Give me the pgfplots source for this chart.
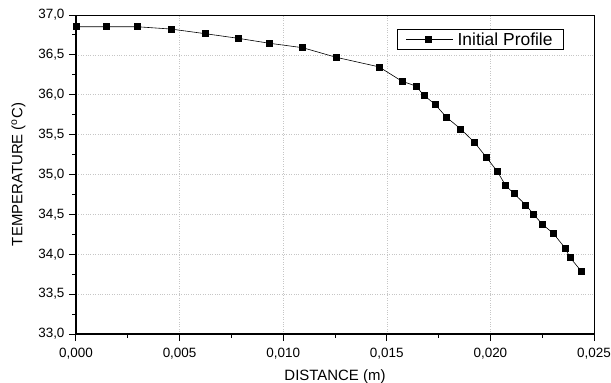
\documentclass[border=0pt]{standalone}
\usepackage{fontspec}
\setmainfont{Liberation Sans}
\usepackage{pgfplots}
\pgfplotsset{compat=1.18}
\begin{document}
\begin{tikzpicture}
\useasboundingbox (-76bp,-49bp) rectangle (535bp,334bp);
\begin{axis}[
  at={(0,0)}, anchor=south west,
  scale only axis, width=518bp, height=319bp,
  xmin=0, xmax=0.025, ymin=33, ymax=37,
  xtick={0,0.005,0.010,0.015,0.020,0.025},
  ytick={33,33.5,34,34.5,35,35.5,36,36.5,37},
  minor x tick num=1, minor y tick num=1,
  scaled x ticks=false,
  tick align=outside,
  xtick pos=bottom, ytick pos=left,
  major tick length=7bp, minor tick length=3.5bp,
  tick style={black, line width=1bp},
  axis line style={line width=0.9bp},
  grid=major,
  major grid style={gray!45, dotted, line width=0.6bp},
  /pgf/number format/assume math mode=true,
  xticklabel style={/pgf/number format/.cd, fixed, fixed zerofill, precision=3, use comma, assume math mode=true, /tikz/.cd, yshift=-4bp},
  yticklabel style={/pgf/number format/.cd, fixed, fixed zerofill, precision=1, use comma, assume math mode=true, /tikz/.cd, xshift=-1bp},
  ticklabel style={font=\fontsize{13.5}{16}\selectfont},
  label style={font=\fontsize{15}{17}\selectfont},
  xlabel={DISTANCE (m)},
  ylabel={TEMPERATURE (\textsuperscript{o}C)},
  xlabel style={yshift=-3.5bp},
  ylabel style={yshift=6bp},
  legend style={at={(rel axis cs:0.942,0.956)}, anchor=north east,
    font=\fontsize{17.5}{19}\selectfont, draw=black, line width=0.8bp,
    inner xsep=9bp, inner ysep=1bp},
  legend cell align=left,
  legend image code/.code={
    \draw[black, line width=0.6bp] (0bp,0bp) -- (47bp,0bp);
    \fill[black] (19bp,-3bp) rectangle (25bp,3bp);
    \path (49bp,0bp);
  },
  after end axis/.code={
    \draw[line width=1.8bp] (rel axis cs:0,1) -- (rel axis cs:0,0) -- (rel axis cs:1,0);
  },
]
\addplot[black, line width=0.6bp, mark=square*, mark size=3bp] coordinates {
(0.00000,36.853)
(0.00145,36.853)
(0.00294,36.853)
(0.00458,36.824)
(0.00623,36.766)
(0.00782,36.708)
(0.00935,36.645)
(0.01094,36.590)
(0.01255,36.470)
(0.01462,36.350)
(0.01573,36.170)
(0.01640,36.110)
(0.01680,35.990)
(0.01733,35.880)
(0.01787,35.720)
(0.01857,35.570)
(0.01924,35.400)
(0.01979,35.220)
(0.02033,35.040)
(0.02074,34.860)
(0.02114,34.760)
(0.02170,34.620)
(0.02209,34.500)
(0.02249,34.380)
(0.02304,34.260)
(0.02360,34.080)
(0.02384,33.960)
(0.02441,33.780)
};
\addlegendentry{Initial Profile}
\end{axis}
\end{tikzpicture}
\end{document}
